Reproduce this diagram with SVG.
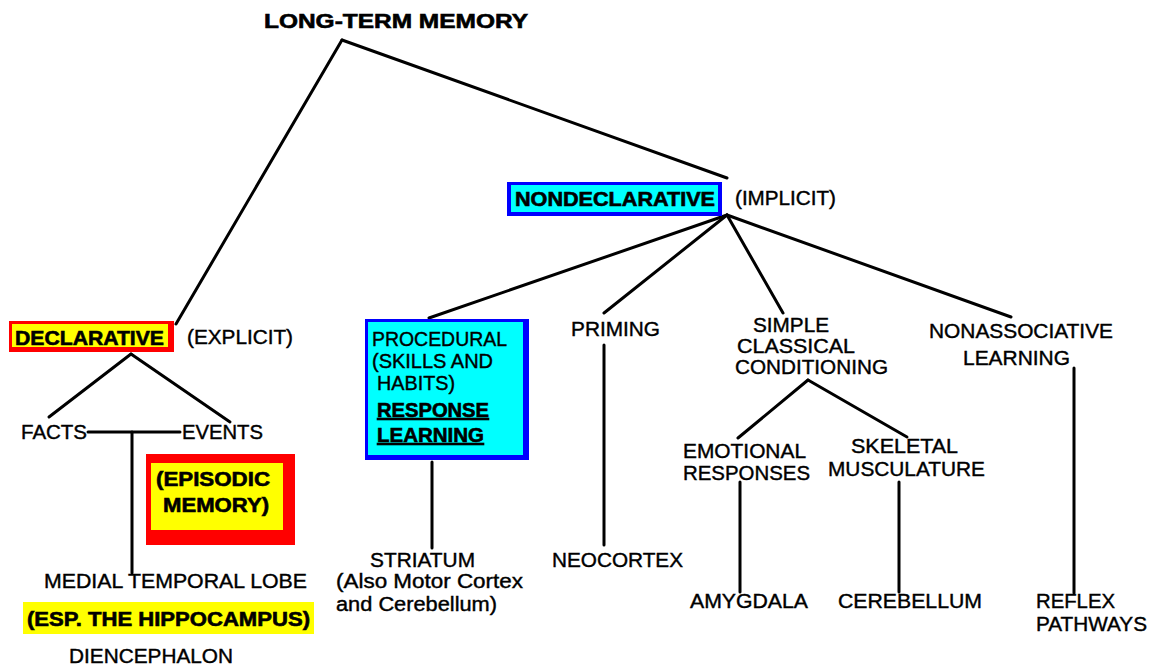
<svg xmlns="http://www.w3.org/2000/svg" width="1151" height="667" viewBox="0 0 1151 667">
<style>
text{font-family:"Liberation Sans",Arial,sans-serif;font-size:20px;fill:#000;}
.b{font-weight:bold;stroke:#000;stroke-width:0.6px;}
.r{stroke:#000;stroke-width:0.4px;}
.ln{stroke:#000;stroke-width:3;fill:none;stroke-linecap:round;}
</style>
<rect width="1151" height="667" fill="#fff"/>
<g id="connectors">
<line class="ln" x1="342" y1="40" x2="176" y2="324"/>
<line class="ln" x1="342" y1="40" x2="727" y2="178"/>
<line class="ln" x1="727" y1="215" x2="429" y2="318"/>
<line class="ln" x1="727" y1="215" x2="604" y2="313"/>
<line class="ln" x1="727" y1="215" x2="783" y2="313"/>
<line class="ln" x1="727" y1="215" x2="1011" y2="317"/>
<line class="ln" x1="131" y1="354" x2="49" y2="417"/>
<line class="ln" x1="131" y1="354" x2="230" y2="422"/>
<line class="ln" x1="88" y1="432" x2="180" y2="432"/>
<line class="ln" x1="132" y1="432" x2="132" y2="573"/>
<line class="ln" x1="432" y1="462" x2="432" y2="548"/>
<line class="ln" x1="604" y1="345" x2="604" y2="545"/>
<line class="ln" x1="808" y1="380" x2="738" y2="438"/>
<line class="ln" x1="808" y1="380" x2="907" y2="437"/>
<line class="ln" x1="740" y1="482" x2="740" y2="592"/>
<line class="ln" x1="899" y1="482" x2="899" y2="592"/>
<line class="ln" x1="1074" y1="368" x2="1074" y2="593"/>
</g>
<g id="ltm">
<text class="b" x="264" y="28" font-size="21" textLength="264" lengthAdjust="spacingAndGlyphs">LONG-TERM MEMORY</text>
</g>
<g id="nondeclarative">
<rect x="507" y="182" width="215" height="34" fill="#0000ff"/>
<rect x="511" y="185" width="207" height="27" fill="#00ffff"/>
<text class="b" x="515" y="206" textLength="200" lengthAdjust="spacingAndGlyphs">NONDECLARATIVE</text>
<text class="r" x="735" y="205" textLength="101" lengthAdjust="spacingAndGlyphs">(IMPLICIT)</text>
</g>
<g id="declarative">
<rect x="9" y="321" width="165" height="31" fill="#ff0000"/>
<rect x="12" y="324" width="156" height="23" fill="#ffff00"/>
<text class="b" x="15" y="345" font-size="23" textLength="149" lengthAdjust="spacingAndGlyphs">DECLARATIVE</text>
<text class="r" x="187" y="344" textLength="106" lengthAdjust="spacingAndGlyphs">(EXPLICIT)</text>
</g>
<g id="facts">
<text class="r" x="21" y="439" textLength="66" lengthAdjust="spacingAndGlyphs">FACTS</text>
</g>
<g id="events">
<text class="r" x="182" y="439" textLength="81" lengthAdjust="spacingAndGlyphs">EVENTS</text>
</g>
<g id="episodic">
<rect x="146" y="454" width="149" height="91" fill="#ff0000"/>
<rect x="151" y="463" width="132" height="67" fill="#ffff00"/>
<text class="b" x="156" y="486" font-size="21" textLength="114" lengthAdjust="spacingAndGlyphs">(EPISODIC</text>
<text class="b" x="163" y="512" font-size="21" textLength="106" lengthAdjust="spacingAndGlyphs">MEMORY)</text>
</g>
<g id="mtl">
<text class="r" x="44" y="588" textLength="263" lengthAdjust="spacingAndGlyphs">MEDIAL TEMPORAL LOBE</text>
<rect x="23" y="602" width="291" height="32" fill="#ffff00"/>
<text class="b" x="27" y="626" font-size="21" textLength="283" lengthAdjust="spacingAndGlyphs">(ESP. THE HIPPOCAMPUS)</text>
<text class="r" x="69" y="663" textLength="164" lengthAdjust="spacingAndGlyphs">DIENCEPHALON</text>
</g>
<g id="procedural">
<rect x="365" y="319" width="164" height="141" fill="#0000ff"/>
<rect x="368" y="322" width="155" height="133" fill="#00ffff"/>
<text class="r" x="372" y="346" font-size="19" textLength="135" lengthAdjust="spacingAndGlyphs">PROCEDURAL</text>
<text class="r" x="372" y="368" font-size="19" textLength="121" lengthAdjust="spacingAndGlyphs">(SKILLS AND</text>
<text class="r" x="377" y="390" font-size="19" textLength="78" lengthAdjust="spacingAndGlyphs">HABITS)</text>
<text class="b" x="377" y="417" text-decoration="underline" textLength="112" lengthAdjust="spacingAndGlyphs">RESPONSE</text>
<text class="b" x="377" y="442" text-decoration="underline" textLength="107" lengthAdjust="spacingAndGlyphs">LEARNING</text>
</g>
<g id="striatum">
<text class="r" x="370" y="567" textLength="105" lengthAdjust="spacingAndGlyphs">STRIATUM</text>
<text class="r" x="336" y="588" textLength="187" lengthAdjust="spacingAndGlyphs">(Also Motor Cortex</text>
<text class="r" x="336" y="611" textLength="161" lengthAdjust="spacingAndGlyphs">and Cerebellum)</text>
</g>
<g id="priming">
<text class="r" x="571" y="336" textLength="89" lengthAdjust="spacingAndGlyphs">PRIMING</text>
</g>
<g id="neocortex">
<text class="r" x="552" y="567" textLength="131" lengthAdjust="spacingAndGlyphs">NEOCORTEX</text>
</g>
<g id="simple">
<text class="r" x="753" y="332" textLength="76" lengthAdjust="spacingAndGlyphs">SIMPLE</text>
<text class="r" x="737" y="353" textLength="118" lengthAdjust="spacingAndGlyphs">CLASSICAL</text>
<text class="r" x="735" y="374" textLength="153" lengthAdjust="spacingAndGlyphs">CONDITIONING</text>
</g>
<g id="nonassociative">
<text class="r" x="929" y="338" textLength="184" lengthAdjust="spacingAndGlyphs">NONASSOCIATIVE</text>
<text class="r" x="963" y="365" textLength="107" lengthAdjust="spacingAndGlyphs">LEARNING</text>
</g>
<g id="emotional">
<text class="r" x="683" y="458" textLength="123" lengthAdjust="spacingAndGlyphs">EMOTIONAL</text>
<text class="r" x="683" y="480" textLength="127" lengthAdjust="spacingAndGlyphs">RESPONSES</text>
</g>
<g id="skeletal">
<text class="r" x="851" y="453" textLength="107" lengthAdjust="spacingAndGlyphs">SKELETAL</text>
<text class="r" x="828" y="476" textLength="157" lengthAdjust="spacingAndGlyphs">MUSCULATURE</text>
</g>
<g id="amygdala">
<text class="r" x="690" y="608" textLength="118" lengthAdjust="spacingAndGlyphs">AMYGDALA</text>
</g>
<g id="cerebellum">
<text class="r" x="838" y="608" textLength="144" lengthAdjust="spacingAndGlyphs">CEREBELLUM</text>
</g>
<g id="reflex">
<text class="r" x="1036" y="608" textLength="79" lengthAdjust="spacingAndGlyphs">REFLEX</text>
<text class="r" x="1036" y="631" textLength="111" lengthAdjust="spacingAndGlyphs">PATHWAYS</text>
</g>
</svg>
